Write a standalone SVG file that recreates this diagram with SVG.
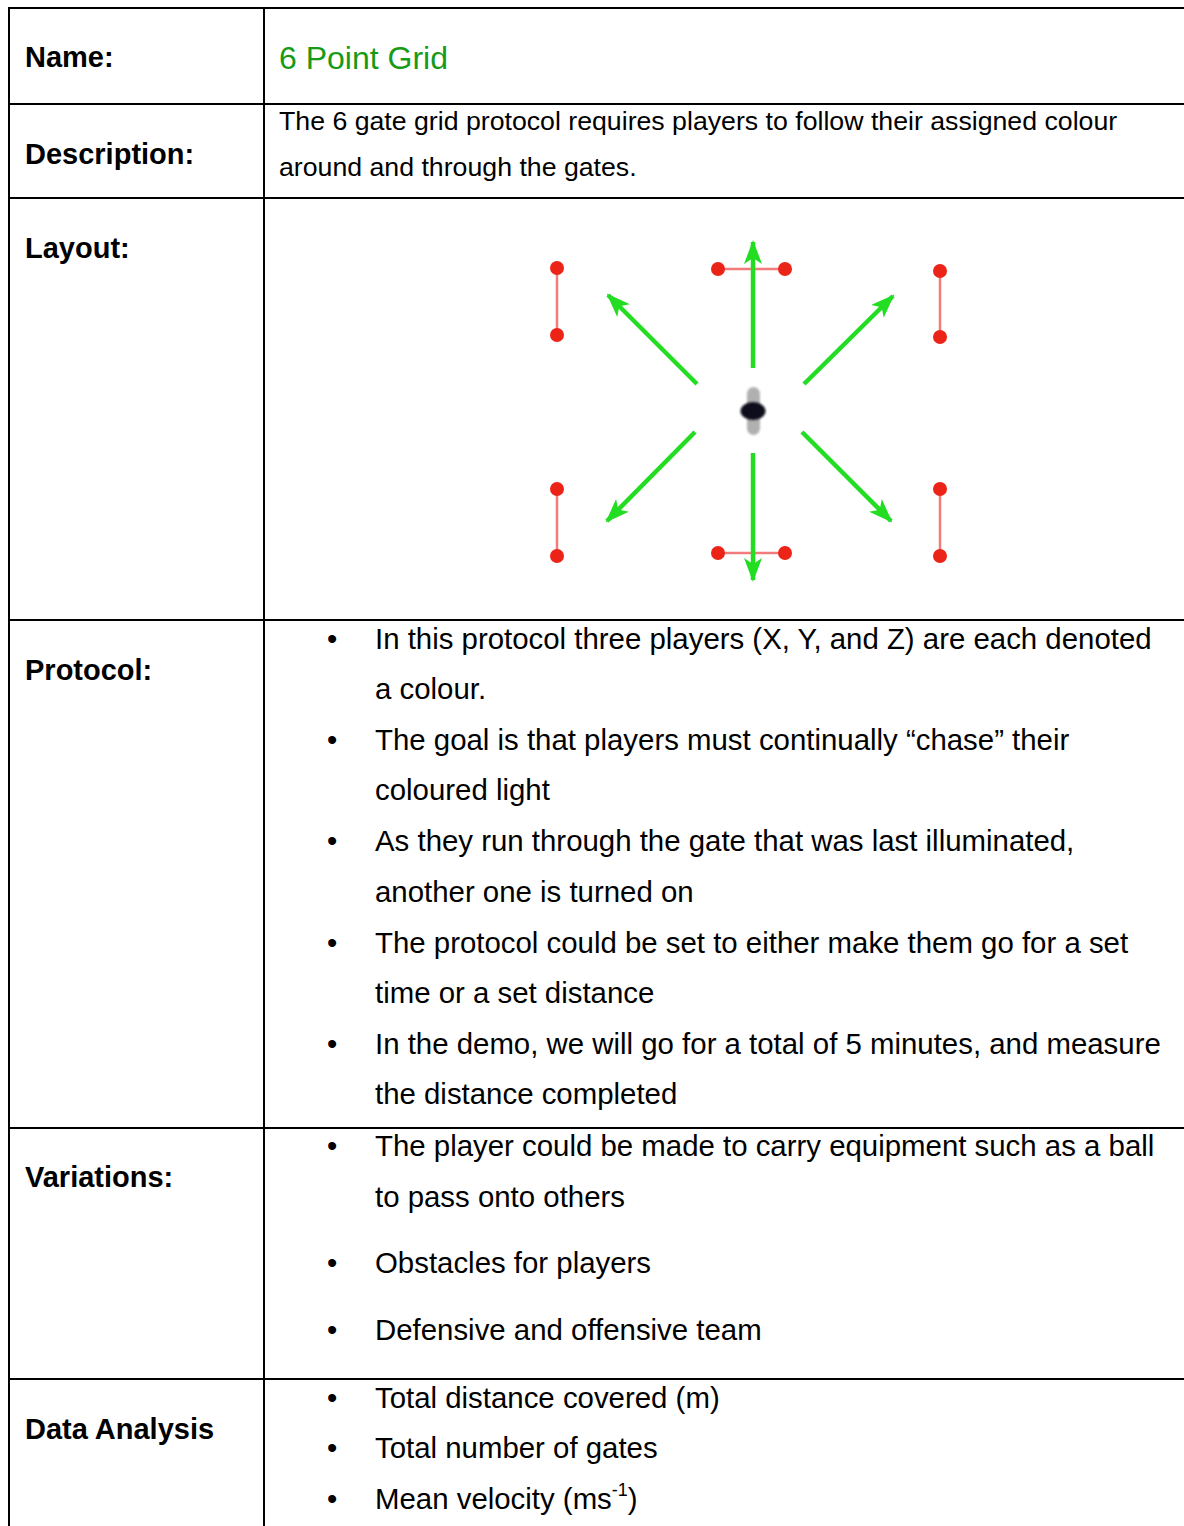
<svg xmlns="http://www.w3.org/2000/svg" width="1184" height="1526" viewBox="0 0 1184 1526">
  <style>
    .grid { stroke: #000; stroke-width: 2; fill: none; }
    .label { font-family: "Liberation Sans", Arial, sans-serif; font-weight: bold; font-size: 29px; fill: #000; }
    .title { font-family: "Liberation Sans", Arial, sans-serif; font-size: 32px; fill: #179b17; }
    .desc { font-family: "Liberation Sans", Arial, sans-serif; font-size: 26.7px; fill: #000; }
    .body { font-family: "Liberation Sans", Arial, sans-serif; font-size: 29.4px; fill: #000; }
    .gate { stroke: #f27c7c; stroke-width: 2.5; }
    .post { fill: #ec2418; }
    .run { stroke: #22dd22; stroke-width: 4.5; marker-end: url(#head); }
  </style>
  <defs>
    <marker id="head" viewBox="0 0 24 18" refX="22" refY="9" markerWidth="24" markerHeight="18" markerUnits="userSpaceOnUse" orient="auto">
      <path d="M0,0 L24,9 L0,18 L6,9 z" fill="#22dd22"/>
    </marker>
    <filter id="soft" x="-50%" y="-50%" width="200%" height="200%">
      <feGaussianBlur stdDeviation="0.9"/>
    </filter>
  </defs>

  <rect width="1184" height="1526" fill="#fff"/>

  <!-- table rules -->
  <g id="table">
    <line class="grid" x1="9" y1="8" x2="9" y2="1526"/>
    <line class="grid" x1="264" y1="8" x2="264" y2="1526"/>
    <line class="grid" x1="8" y1="8" x2="1184" y2="8"/>
    <line class="grid" x1="8" y1="104" x2="1184" y2="104"/>
    <line class="grid" x1="8" y1="198" x2="1184" y2="198"/>
    <line class="grid" x1="8" y1="620" x2="1184" y2="620"/>
    <line class="grid" x1="8" y1="1128" x2="1184" y2="1128"/>
    <line class="grid" x1="8" y1="1379" x2="1184" y2="1379"/>
  </g>

  <!-- row labels -->
  <g id="labels">
    <text class="label" x="25" y="67">Name:</text>
    <text class="label" x="25" y="164">Description:</text>
    <text class="label" x="25" y="258">Layout:</text>
    <text class="label" x="25" y="680">Protocol:</text>
    <text class="label" x="25" y="1187">Variations:</text>
    <text class="label" x="25" y="1439">Data Analysis</text>
  </g>

  <g id="name">
    <text class="title" x="279" y="69">6 Point Grid</text>
  </g>

  <g id="description">
    <text class="desc" x="279" y="130">The 6 gate grid protocol requires players to follow their assigned colour</text>
    <text class="desc" x="279" y="176">around and through the gates.</text>
  </g>

  <!-- layout sketch: six gates around a central start point -->
  <g id="layout">
    <g id="gates">
      <line class="gate" x1="557" y1="268" x2="557" y2="335"/>
      <circle class="post" cx="557" cy="268" r="7"/>
      <circle class="post" cx="557" cy="335" r="7"/>

      <line class="gate" x1="718" y1="269" x2="785" y2="269"/>
      <circle class="post" cx="718" cy="269" r="7"/>
      <circle class="post" cx="785" cy="269" r="7"/>

      <line class="gate" x1="940" y1="271" x2="940" y2="337"/>
      <circle class="post" cx="940" cy="271" r="7"/>
      <circle class="post" cx="940" cy="337" r="7"/>

      <line class="gate" x1="557" y1="489" x2="557" y2="556"/>
      <circle class="post" cx="557" cy="489" r="7"/>
      <circle class="post" cx="557" cy="556" r="7"/>

      <line class="gate" x1="718" y1="553" x2="785" y2="553"/>
      <circle class="post" cx="718" cy="553" r="7"/>
      <circle class="post" cx="785" cy="553" r="7"/>

      <line class="gate" x1="940" y1="489" x2="940" y2="556"/>
      <circle class="post" cx="940" cy="489" r="7"/>
      <circle class="post" cx="940" cy="556" r="7"/>
    </g>
    <g id="runs">
      <line class="run" x1="753" y1="368" x2="753" y2="242"/>
      <line class="run" x1="753" y1="453" x2="753" y2="580"/>
      <line class="run" x1="697" y1="384" x2="608" y2="295"/>
      <line class="run" x1="804" y1="384" x2="893" y2="296"/>
      <line class="run" x1="695" y1="432" x2="607" y2="521"/>
      <line class="run" x1="802" y1="432" x2="891" y2="521"/>
    </g>
    <g id="start">
      <rect x="747" y="387" width="13" height="48" rx="6.5" fill="#b0b0b0" filter="url(#soft)"/>
      <ellipse cx="753" cy="411" rx="12.5" ry="9" fill="#0d0d1a" filter="url(#soft)"/>
    </g>
  </g>

  <g id="protocol">
    <text class="body" x="327" y="649">•</text>
    <text class="body" x="375" y="649">In this protocol three players (X, Y, and Z) are each denoted</text>
    <text class="body" x="375" y="699">a colour.</text>
    <text class="body" x="327" y="750">•</text>
    <text class="body" x="375" y="750">The goal is that players must continually “chase” their</text>
    <text class="body" x="375" y="800">coloured light</text>
    <text class="body" x="327" y="851">•</text>
    <text class="body" x="375" y="851">As they run through the gate that was last illuminated,</text>
    <text class="body" x="375" y="902">another one is turned on</text>
    <text class="body" x="327" y="953">•</text>
    <text class="body" x="375" y="953">The protocol could be set to either make them go for a set</text>
    <text class="body" x="375" y="1003">time or a set distance</text>
    <text class="body" x="327" y="1054">•</text>
    <text class="body" x="375" y="1054">In the demo, we will go for a total of 5 minutes, and measure</text>
    <text class="body" x="375" y="1104">the distance completed</text>
  </g>

  <g id="variations">
    <text class="body" x="327" y="1156">•</text>
    <text class="body" x="375" y="1156">The player could be made to carry equipment such as a ball</text>
    <text class="body" x="375" y="1207">to pass onto others</text>
    <text class="body" x="327" y="1273">•</text>
    <text class="body" x="375" y="1273">Obstacles for players</text>
    <text class="body" x="327" y="1340">•</text>
    <text class="body" x="375" y="1340">Defensive and offensive team</text>
  </g>

  <g id="analysis">
    <text class="body" x="327" y="1408">•</text>
    <text class="body" x="375" y="1408">Total distance covered (m)</text>
    <text class="body" x="327" y="1458">•</text>
    <text class="body" x="375" y="1458">Total number of gates</text>
    <text class="body" x="327" y="1509">•</text>
    <text class="body" x="375" y="1509">Mean velocity (ms<tspan font-size="18" dy="-13">-1</tspan><tspan dy="13">)</tspan></text>
  </g>
</svg>
